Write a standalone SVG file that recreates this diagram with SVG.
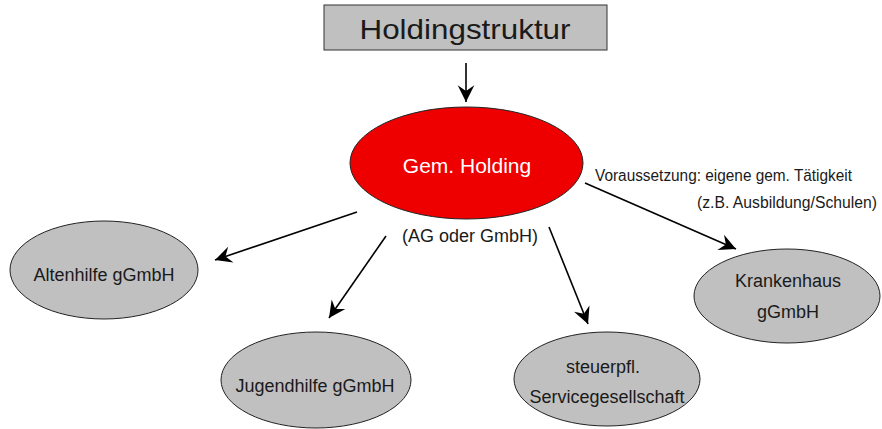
<svg xmlns="http://www.w3.org/2000/svg" width="882" height="429" viewBox="0 0 882 429">
  <style>
    text { font-family: "Liberation Sans", Arial, sans-serif; fill: #1a1a1a; }
    .node { fill: #c0c0c0; stroke: #222; stroke-width: 1; }
    .lbl { font-size: 18px; text-anchor: middle; }
    .edge { stroke: #000; stroke-width: 1.6; fill: none; marker-end: url(#arrow); }
  </style>
  <defs>
    <marker id="arrow" markerUnits="userSpaceOnUse" markerWidth="20" markerHeight="20" viewBox="-16 -8 18 16" refX="0" refY="0" orient="auto">
      <path d="M0,0 L-15,-7.5 L-10,0 L-15,7.5 Z" fill="#000"/>
    </marker>
  </defs>
  <rect width="882" height="429" fill="#fff"/>

  <g id="title">
    <rect x="324" y="5" width="283" height="45" fill="#c0c0c0" stroke="#333" stroke-width="1"/>
    <text x="465" y="39" font-size="28" text-anchor="middle" textLength="211" lengthAdjust="spacingAndGlyphs">Holdingstruktur</text>
  </g>

  <g id="holding">
    <ellipse cx="466.5" cy="163" rx="116.5" ry="56" fill="#ee0000" stroke="#222" stroke-width="1"/>
    <text x="467" y="173" font-size="21" text-anchor="middle" style="fill:#fff">Gem. Holding</text>
    <text x="470" y="242" font-size="18" text-anchor="middle">(AG oder GmbH)</text>
  </g>

  <g id="altenhilfe">
    <ellipse class="node" cx="104" cy="270" rx="94" ry="49"/>
    <text class="lbl" x="104" y="281">Altenhilfe gGmbH</text>
  </g>

  <g id="jugendhilfe">
    <ellipse class="node" cx="316" cy="380" rx="95" ry="48"/>
    <text class="lbl" x="315" y="392">Jugendhilfe gGmbH</text>
  </g>

  <g id="service">
    <ellipse class="node" cx="607" cy="379" rx="93" ry="47"/>
    <text class="lbl" x="603" y="373">steuerpfl.</text>
    <text class="lbl" x="607" y="403">Servicegesellschaft</text>
  </g>

  <g id="krankenhaus">
    <ellipse class="node" cx="787" cy="296" rx="93" ry="47"/>
    <text class="lbl" x="788" y="287">Krankenhaus</text>
    <text class="lbl" x="788" y="318">gGmbH</text>
  </g>

  <g id="condition-note">
    <text x="595" y="181" font-size="16" textLength="257" lengthAdjust="spacingAndGlyphs">Voraussetzung: eigene gem. Tätigkeit</text>
    <text x="697" y="208" font-size="16" textLength="180" lengthAdjust="spacingAndGlyphs">(z.B. Ausbildung/Schulen)</text>
  </g>

  <g id="connectors">
    <line class="edge" x1="466" y1="63" x2="466" y2="102"/>
    <line class="edge" x1="357" y1="212" x2="215" y2="260"/>
    <line class="edge" x1="386" y1="236" x2="329" y2="318"/>
    <line class="edge" x1="549" y1="227" x2="588" y2="324"/>
    <line class="edge" x1="585" y1="183" x2="736" y2="249"/>
  </g>
</svg>
